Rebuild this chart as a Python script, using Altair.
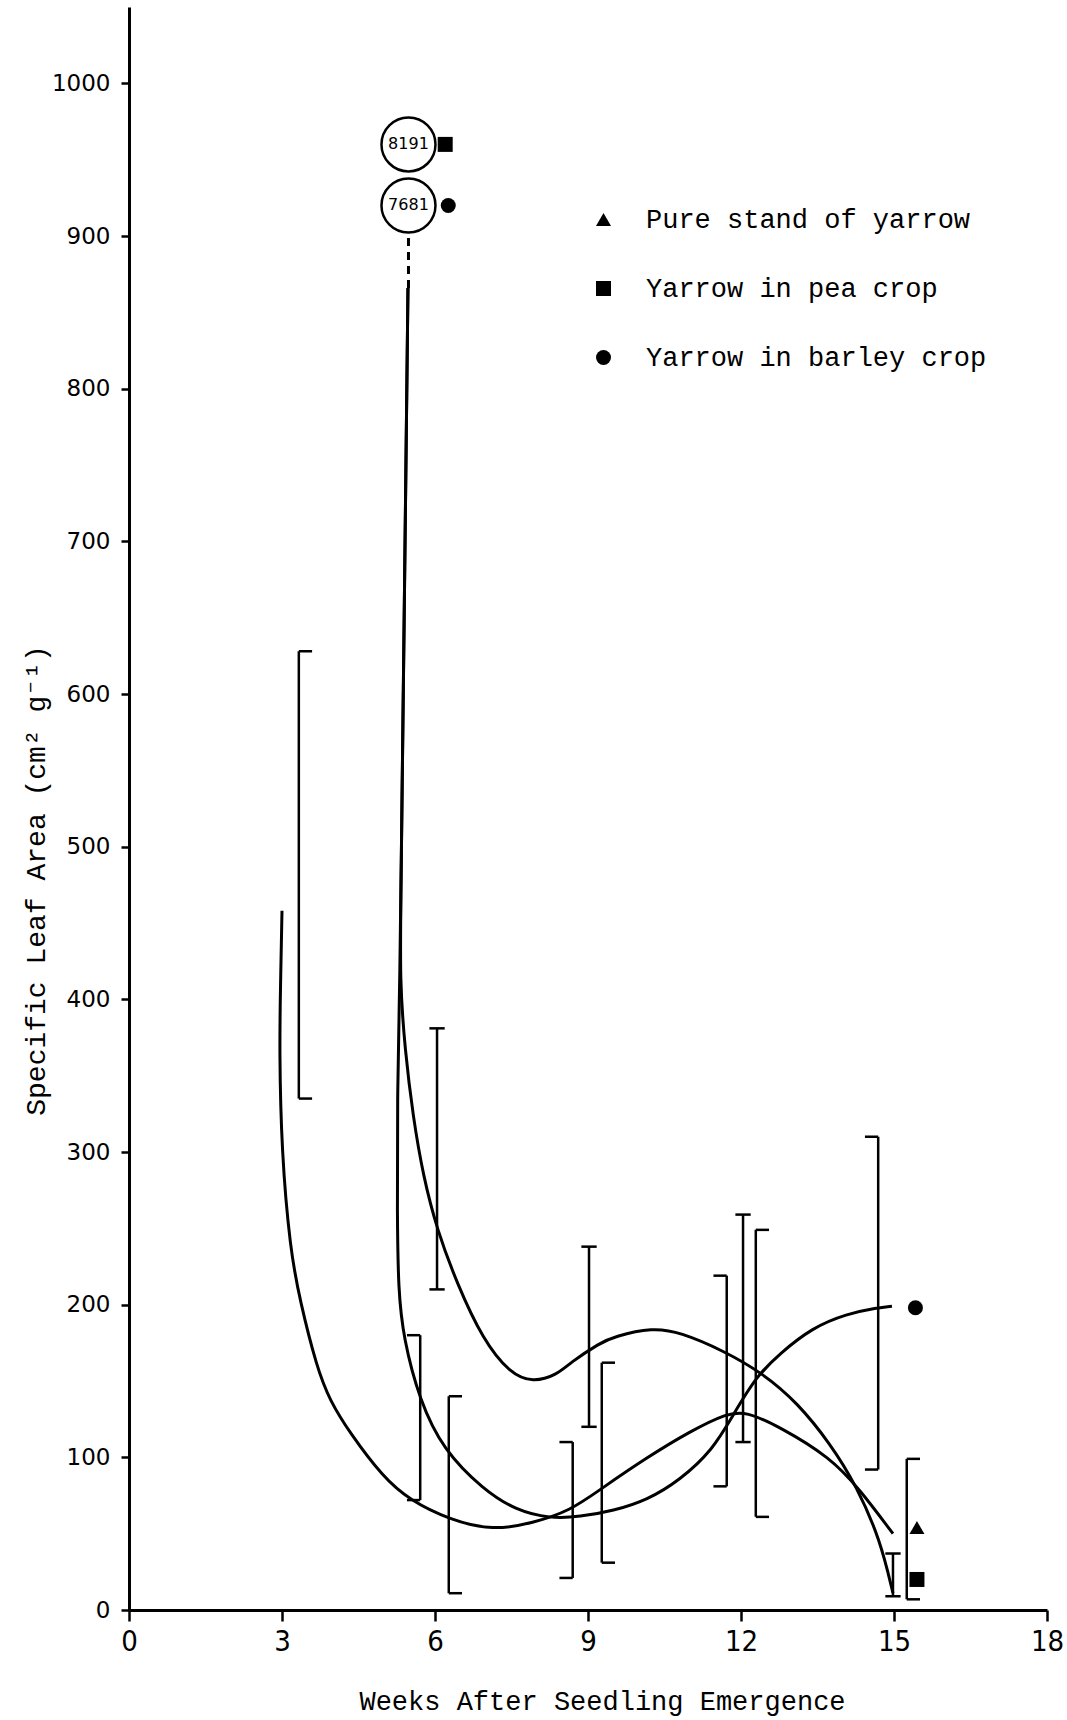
import altair as alt
import pandas as pd

# ---- series -------------------------------------------------------------
groups = ["Pure stand of yarrow", "Yarrow in pea crop", "Yarrow in barley crop"]
shapes = ["triangle-up", "square", "circle"]

# fitted curves: weeks after emergence vs specific leaf area (cm2 g-1)
pure_weeks = [3.0, 2.97, 2.95, 2.99, 3.16, 3.35, 3.68, 3.94, 4.33, 4.98, 5.5,
              6.29, 7.14, 7.92, 8.65, 9.24, 10.16, 11.0, 11.73, 12.1, 12.76,
              13.75, 14.33, 14.98]
pure_sla = [458, 408, 367, 301, 236, 203, 159, 137, 116, 87, 72,
            59, 52, 57, 65, 79, 100, 117, 129, 130, 120,
            100, 79, 50]

pea_weeks = [5.47, 5.4, 5.33, 5.31, 5.41, 5.57, 5.77, 6.04, 6.43, 6.94, 7.47,
             7.92, 8.39, 8.65, 9.24, 9.5, 10.27, 10.8, 11.65, 12.43, 13.1,
             13.75, 14.27, 14.73, 14.98]
pea_sla = [866, 661, 465, 413, 367, 323, 284, 249, 214, 177, 155,
           149, 154, 162, 175, 179, 185, 182, 170, 155, 136,
           109, 81, 46, 11]

barley_weeks = [5.47, 5.4, 5.33, 5.31, 5.26, 5.26, 5.28, 5.38, 5.7, 6.16, 6.94,
                7.6, 8.25, 8.84, 9.5, 10.16, 10.8, 11.45, 11.85, 12.3, 12.76,
                13.4, 14.07, 14.67, 14.96]
barley_sla = [866, 661, 465, 413, 334, 257, 210, 178, 137, 105, 79,
              65, 60, 61, 65, 72, 85, 105, 128, 153, 168,
              185, 194, 198, 199]

# error ranges
bar_week = [3.33, 5.71, 6.04, 6.27, 8.7, 9.02, 9.27, 11.72, 12.04, 12.29, 14.69, 14.98, 15.25]
bar_low = [335, 72, 210, 11, 21, 120, 31, 81, 110, 61, 92, 9, 7]
bar_high = [628, 180, 381, 140, 110, 238, 162, 219, 259, 249, 310, 37, 99]
bar_group = [0, 2, 1, 0, 2, 1, 0, 2, 1, 0, 2, 1, 0]

# series markers
marker_week = [15.45, 15.45, 15.42, 6.2, 6.26]
marker_sla = [54, 20, 198, 960, 920]
marker_group = [0, 1, 2, 1, 2]

# off-scale values at week 5.5 (pea, barley), shown in rings
offscale_value = [8191, 7681]
ring_week = [5.48, 5.48]
ring_sla = [960, 920]

# ---- tables -------------------------------------------------------------
def curve(weeks, sla, g):
    return pd.DataFrame({"week": weeks, "sla": sla, "group": groups[g],
                         "seq": list(range(len(weeks)))})

curves = pd.concat([curve(pure_weeks, pure_sla, 0),
                    curve(pea_weeks, pea_sla, 1),
                    curve(barley_weeks, barley_sla, 2)], ignore_index=True)

bars = pd.DataFrame({"week": bar_week, "low": bar_low, "high": bar_high})

# cap reach per series: "[" right, "I" both sides, "]" left
cap_reach = {0: (0.0, 0.26), 1: (-0.15, 0.15), 2: (-0.26, 0.0)}
cap_rows = []
for w, lo, hi, g in zip(bar_week, bar_low, bar_high, bar_group):
    a, b = cap_reach[g]
    for yv in (lo, hi):
        cap_rows.append({"x1": w + a, "x2": w + b, "y": yv})
caps = pd.DataFrame(cap_rows)

markers = pd.DataFrame({"week": marker_week, "sla": marker_sla,
                        "group": [groups[g] for g in marker_group]})

rings = pd.DataFrame({"week": ring_week, "sla": ring_sla,
                      "label": [str(v) for v in offscale_value]})

lead = pd.DataFrame({"week": [5.48], "y1": [866], "y2": [901]})

# ---- scales & axes ------------------------------------------------------
xs = alt.Scale(domain=[0, 18], nice=False, zero=False)
ys = alt.Scale(domain=[0, 1050], nice=False)

mono = "Liberation Mono, DejaVu Sans Mono, monospace"
narrow = "Liberation Sans Narrow, DejaVu Sans Condensed, Liberation Sans, sans-serif"

xaxis = alt.Axis(values=[0, 3, 6, 9, 12, 15, 18], grid=False, format="d",
                 title="Weeks After Seedling Emergence",
                 titleFont=mono, titleFontSize=27, titleFontWeight="normal",
                 titleColor="black", titleX=473, titleY=91,
                 titleAlign="center", titleBaseline="middle",
                 labelFont=narrow, labelFontSize=29, labelColor="black",
                 labelPadding=6, labelFlush=False, labelOverlap=False,
                 domainColor="black", domainWidth=3,
                 tickColor="black", tickWidth=2.5, tickSize=11)

yaxis = alt.Axis(values=list(range(0, 1001, 100)), grid=False, format="d",
                 title="Specific Leaf Area (cm\u00b2 g\u207b\u00b9)",
                 titleFont=mono, titleFontSize=28, titleFontWeight="normal",
                 titleColor="black", titleX=-93, titleY=873, titleAngle=270,
                 titleAlign="center", titleBaseline="middle",
                 labelFont="DejaVu Sans", labelFontSize=23, labelColor="black",
                 labelPadding=11, labelOverlap=False,
                 domainColor="black", domainWidth=3,
                 tickColor="black", tickWidth=2.5, tickSize=8)

def X(f):
    return alt.X(f, scale=xs, axis=xaxis)

def Y(f):
    return alt.Y(f, scale=ys, axis=yaxis)

# ---- layers -------------------------------------------------------------
lines = alt.Chart(curves).mark_line(
    interpolate="basis", color="black", strokeWidth=3
).encode(x=X("week:Q"), y=Y("sla:Q"), detail="group:N", order="seq:Q")

bar_rules = alt.Chart(bars).mark_rule(color="black", strokeWidth=2.5).encode(
    x=X("week:Q"), y=Y("low:Q"), y2="high:Q")

cap_rules = alt.Chart(caps).mark_rule(color="black", strokeWidth=2.5).encode(
    x=X("x1:Q"), x2="x2:Q", y=Y("y:Q"))

lead_rule = alt.Chart(lead).mark_rule(
    color="black", strokeWidth=3, strokeDash=[8, 6]
).encode(x=X("week:Q"), y=Y("y1:Q"), y2="y2:Q")

points = alt.Chart(markers).mark_point(
    filled=True, color="black", size=225, opacity=1
).encode(
    x=X("week:Q"), y=Y("sla:Q"),
    shape=alt.Shape("group:N",
                    scale=alt.Scale(domain=groups, range=shapes),
                    legend=alt.Legend(title=None, orient="none",
                                      legendX=461, legendY=199, padding=0,
                                      labelFont=mono, labelFontSize=27,
                                      labelColor="black", labelOffset=29,
                                      labelLimit=0,
                                      symbolSize=225, symbolFillColor="black",
                                      symbolStrokeWidth=0, rowPadding=41)),
)

ring_marks = alt.Chart(rings).mark_point(
    shape="circle", filled=False, color="black", size=2916, strokeWidth=2.5, opacity=1
).encode(x=X("week:Q"), y=Y("sla:Q"))

ring_text = alt.Chart(rings).mark_text(
    font="DejaVu Sans", fontSize=16, color="black"
).encode(x=X("week:Q"), y=Y("sla:Q"), text="label:N")

chart = alt.layer(
    lines, bar_rules, cap_rules, lead_rule, ring_marks, ring_text, points
).properties(
    width=918, height=1603,
    padding={"left": 129, "top": 7, "right": 20, "bottom": 110},
    autosize=alt.AutoSizeParams(type="none"),
    background="white",
).configure_view(stroke=None)

chart.save("out.html", embed_options={"renderer": "svg", "actions": False})
